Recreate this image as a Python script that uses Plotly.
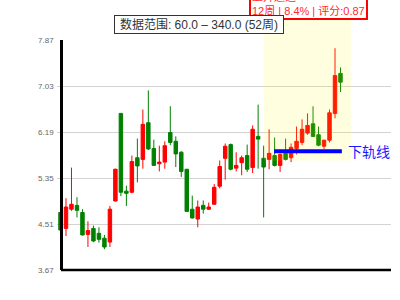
import plotly.graph_objects as go

# ---- data (weekly candles, 52 weeks) ----
weeks = list(range(52))
opens = [4.72, 4.43, 4.78, 4.85, 4.72, 4.32, 4.43, 4.34, 4.25, 4.18,
         4.93, 6.53, 5.11, 5.09, 5.72, 5.69, 6.36, 5.89, 5.61, 5.64,
         6.18, 6.02, 5.82, 5.51, 4.78, 4.60, 4.85, 4.78, 4.87, 5.20,
         5.71, 5.96, 5.53, 5.63, 5.76, 5.54, 6.11, 5.71, 5.69, 5.76,
         5.58, 5.80, 5.72, 5.89, 6.00, 6.17, 6.34, 6.14, 5.93, 6.04,
         6.53, 7.26]
highs = [4.74, 4.98, 5.54, 5.00, 4.78, 4.56, 4.48, 4.45, 4.31, 4.84,
         5.52, 6.53, 5.21, 5.76, 6.07, 6.60, 6.95, 6.05, 5.94, 6.02,
         6.66, 6.11, 5.84, 5.51, 5.03, 4.94, 4.94, 4.90, 5.24, 5.67,
         5.98, 5.98, 5.82, 5.76, 5.96, 6.31, 6.69, 5.94, 6.24, 6.09,
         5.80, 6.07, 5.98, 6.29, 6.42, 6.53, 6.66, 6.29, 6.05, 6.60,
         7.72, 7.37]
lows = [4.38, 4.29, 4.75, 4.63, 4.30, 4.09, 4.18, 4.17, 4.05, 4.09,
        4.92, 5.02, 4.84, 5.07, 5.27, 5.52, 5.86, 5.58, 5.47, 5.52,
        5.95, 5.55, 5.37, 4.74, 4.61, 4.45, 4.70, 4.77, 4.87, 5.16,
        5.32, 5.49, 5.47, 5.40, 5.46, 5.44, 5.52, 4.63, 5.51, 5.56,
        5.46, 5.67, 5.64, 5.78, 5.95, 6.14, 6.10, 5.93, 5.88, 6.00,
        6.44, 6.92]
closes = [4.40, 4.82, 4.87, 4.76, 4.31, 4.39, 4.20, 4.23, 4.09, 4.78,
          5.51, 5.09, 5.07, 5.65, 5.57, 6.33, 5.88, 5.58, 5.64, 5.94,
          6.00, 5.79, 5.47, 4.74, 4.62, 4.82, 4.78, 4.82, 5.18, 5.56,
          5.93, 5.51, 5.58, 5.72, 5.51, 6.24, 6.06, 5.55, 5.80, 5.58,
          5.78, 5.69, 5.91, 6.02, 6.24, 6.31, 6.11, 5.95, 6.04, 6.54,
          7.22, 7.10]

y_ticks = [3.67, 4.51, 5.35, 6.19, 7.03, 7.87]
y_tick_labels = ["3.67", "4.51", "5.35", "6.19", "7.03", "7.87"]

# highlighted channel / support line
zone_start, zone_end, zone_floor = 37.05, 52.9, 5.67
support_start, support_end, support_level = 38.9, 51.25, 5.84
support_label = "下轨线"
range_text = "数据范围: 60.0 – 340.0 (52周)"
trend_text = "上升通道<br>12周 | 8.4% | 评分:0.87"

FONT = "Liberation Sans, Arial, Noto Sans CJK SC, sans-serif"

fig = go.Figure()
fig.add_trace(go.Candlestick(
    x=weeks, open=opens, high=highs, low=lows, close=closes,
    increasing=dict(line=dict(color="#ff0000", width=1), fillcolor="#ff0000"),
    decreasing=dict(line=dict(color="#008000", width=1), fillcolor="#008000"),
    whiskerwidth=0, showlegend=False, hoverinfo="skip",
))

ymin, ymax = y_ticks[0], y_ticks[-1]

fig.add_shape(type="rect", xref="x", yref="paper",
              x0=zone_start, x1=zone_end,
              y0=(zone_floor - ymin) / (ymax - ymin), y1=1.2,
              fillcolor="rgba(255,255,0,0.12)", line=dict(width=0), layer="above")
fig.add_shape(type="line", xref="x", yref="y",
              x0=support_start, x1=support_end, y0=support_level, y1=support_level,
              line=dict(color="#0000ff", width=4), layer="above")
# bottom axis line
p_left = 4 / 334
fig.add_shape(type="line", xref="paper", yref="paper", x0=p_left, x1=1, y0=0, y1=0,
              line=dict(color="black", width=2.5), layer="above")

fig.add_annotation(x=support_end, y=support_level, xref="x", yref="y",
                   text=support_label, showarrow=False, xanchor="left", yanchor="middle",
                   xshift=4, yshift=-1, font=dict(color="#1a1aff", size=14, family=FONT))
fig.add_annotation(x=0.753, y=1.086, xref="paper", yref="paper", text=trend_text,
                   showarrow=False, xanchor="center", yanchor="bottom", align="left",
                   font=dict(color="#ff2a2a", size=11, family=FONT),
                   bgcolor="white", bordercolor="#ff0000", borderwidth=2, borderpad=1)
fig.add_annotation(x=0.424, y=1.066, xref="paper", yref="paper", text=range_text,
                   showarrow=False, xanchor="center", yanchor="middle",
                   font=dict(color="#333333", size=12, family=FONT),
                   bgcolor="white", bordercolor="#333333", borderwidth=1, borderpad=0,
                   width=168, height=17)

fig.update_layout(
    width=400, height=300,
    margin=dict(l=57, r=9, t=40, b=30),
    paper_bgcolor="white", plot_bgcolor="white",
    boxgap=0.1,
    showlegend=False,
    font=dict(family=FONT),
    xaxis=dict(range=[-0.6375, 60.2], showgrid=False, zeroline=False, showline=False,
               showticklabels=False, ticks="", rangeslider=dict(visible=False), fixedrange=True),
    yaxis=dict(range=[ymin, ymax], anchor="free", position=p_left,
               tickvals=y_ticks, ticktext=y_tick_labels,
               showgrid=True, gridcolor="#d3d3d3", gridwidth=1, zeroline=False,
               showline=True, linecolor="black", linewidth=2.5, ticks="",
               ticklabelstandoff=5,
               tickfont=dict(size=8, color="#666666", family=FONT), fixedrange=True),
)

fig.write_html("out.html")
